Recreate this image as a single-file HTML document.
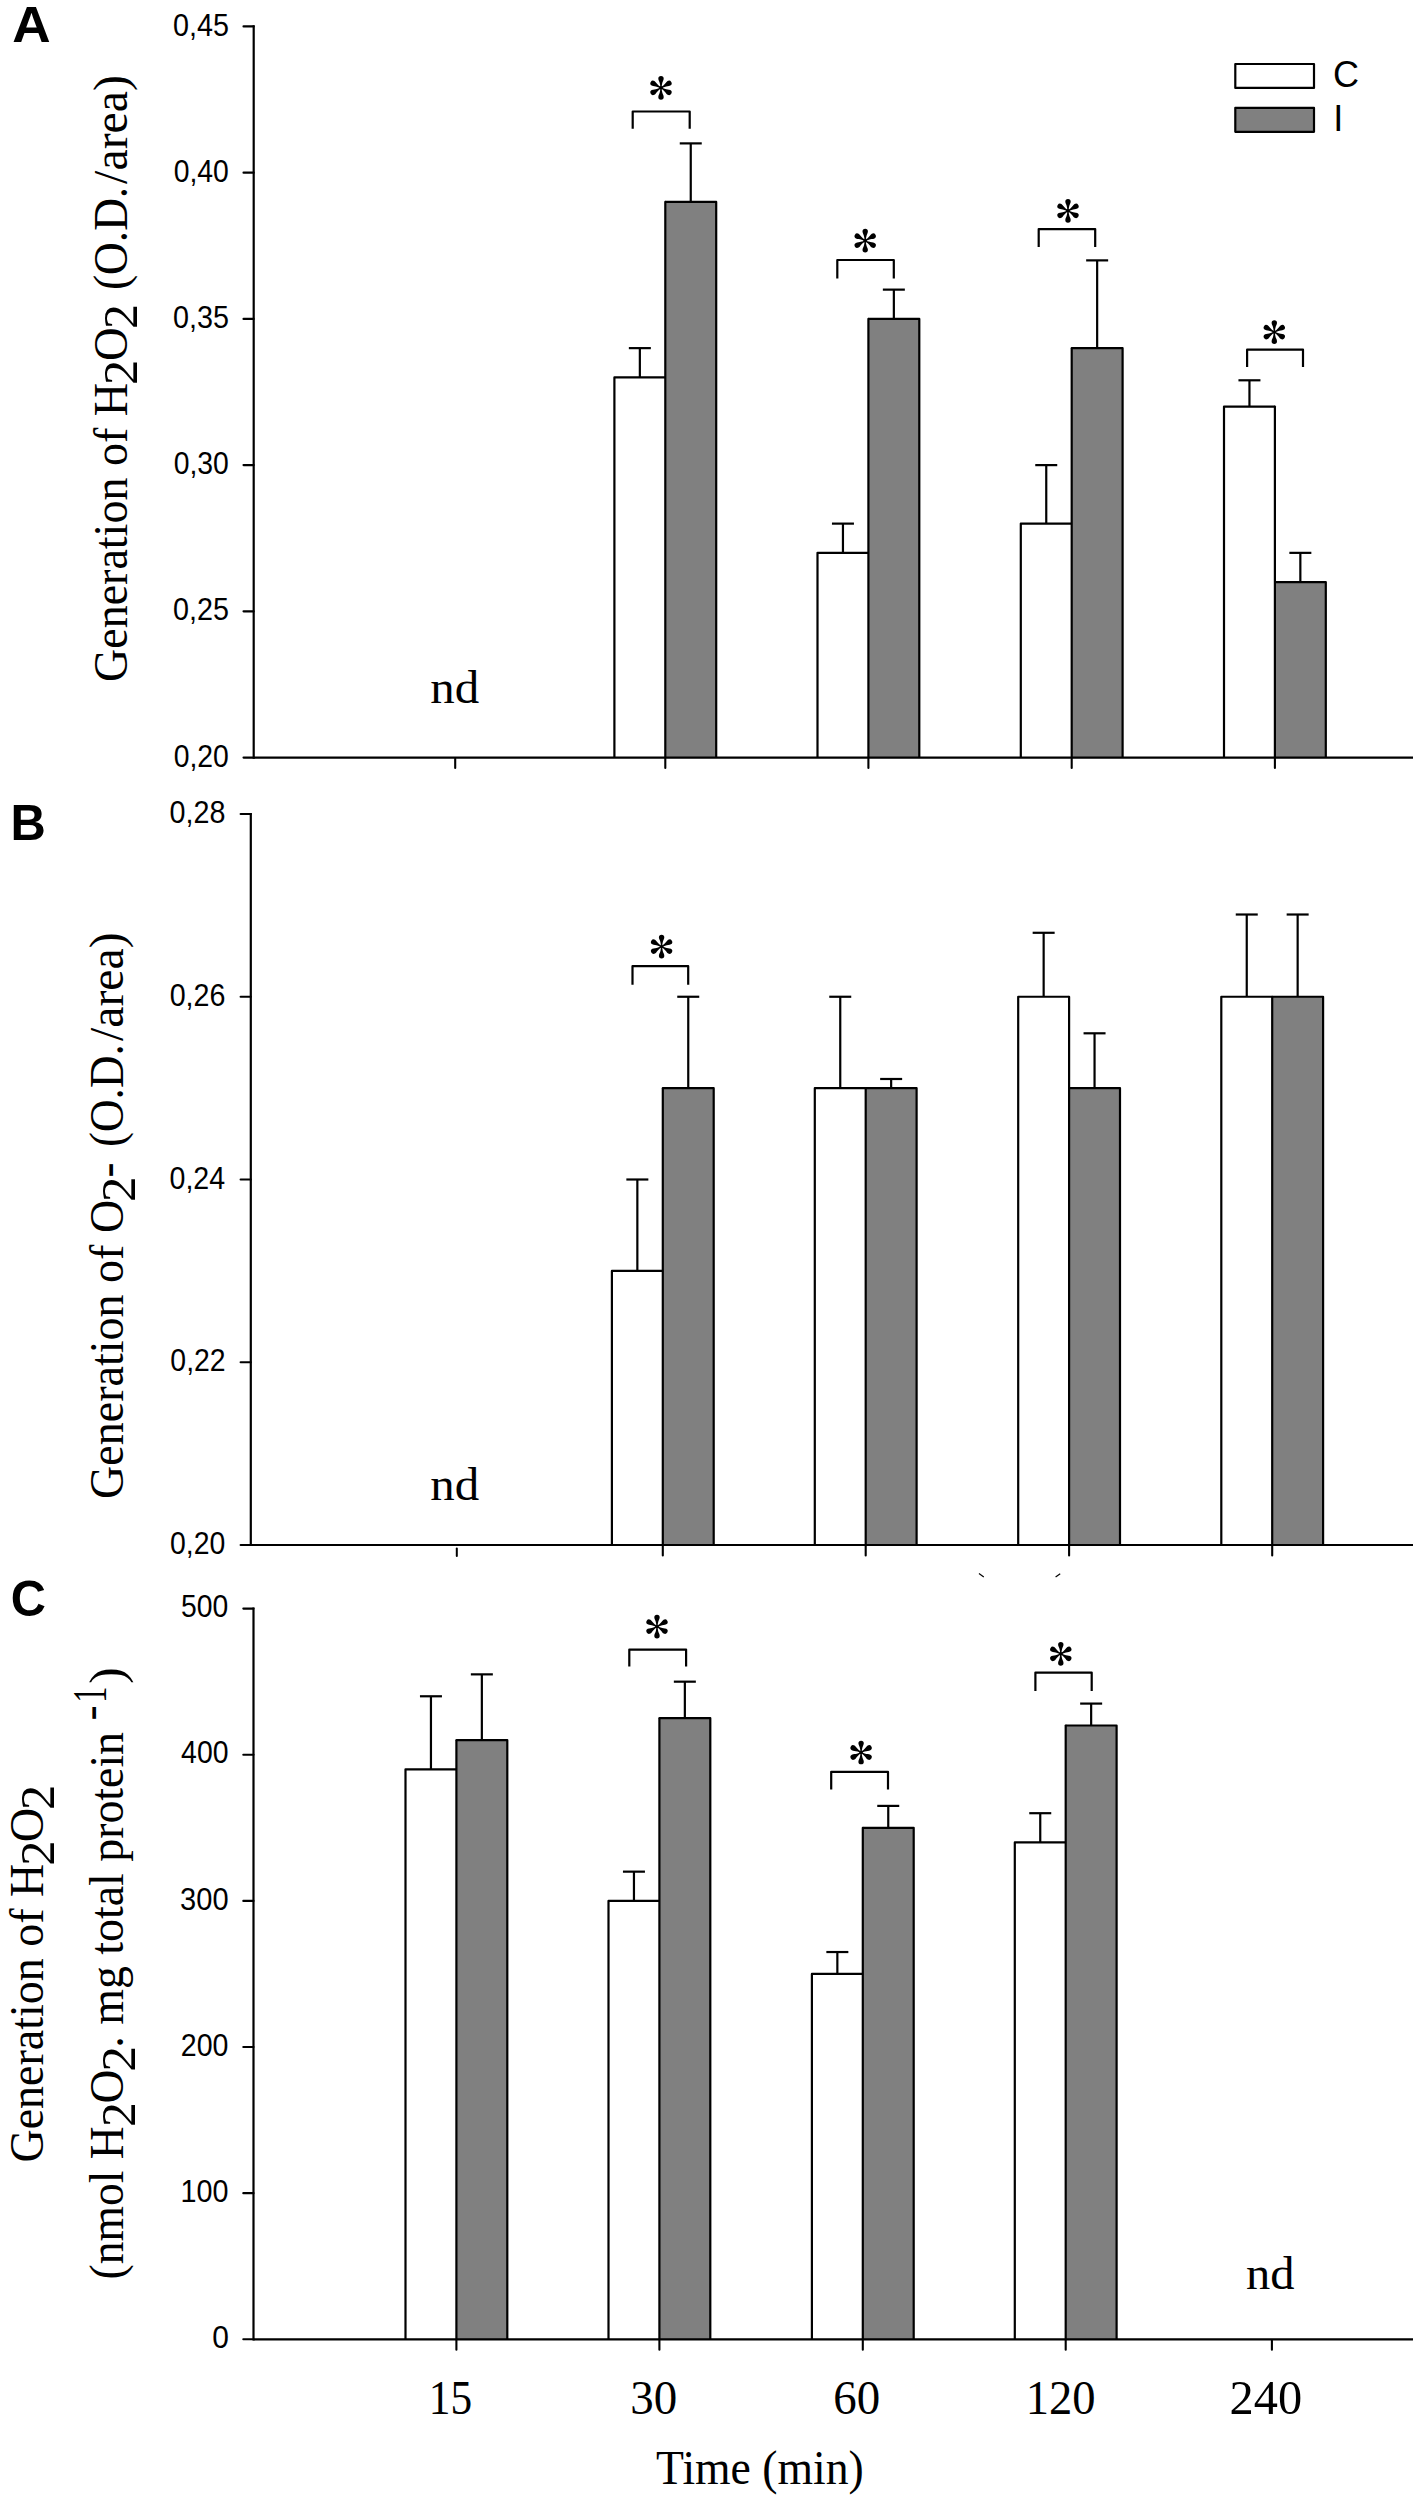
<!DOCTYPE html>
<html lang="en">
<head>
<meta charset="utf-8">
<title>Generation of H2O2 and O2- over time</title>
<style>
html,body{margin:0;padding:0;background:#fff;}
body{width:1418px;height:2500px;overflow:hidden;font-family:"Liberation Sans",sans-serif;}
svg{display:block;}
text{fill:#000;}
</style>
</head>
<body>
<svg width="1418" height="2500" viewBox="0 0 1418 2500">
<rect x="0" y="0" width="1418" height="2500" fill="#fff"/>
<rect x="614.4" y="377.38" width="50.9" height="380.22" fill="#fff"/>
<rect x="665.3" y="201.89" width="50.9" height="555.71" fill="#808080"/>
<rect x="817.5" y="552.86" width="50.9" height="204.74" fill="#fff"/>
<rect x="868.4" y="318.88" width="50.9" height="438.72" fill="#808080"/>
<rect x="1020.8" y="523.62" width="50.9" height="233.98" fill="#fff"/>
<rect x="1071.7" y="348.13" width="50.9" height="409.47" fill="#808080"/>
<rect x="1224" y="406.62" width="50.9" height="350.98" fill="#fff"/>
<rect x="1274.9" y="582.11" width="50.9" height="175.49" fill="#808080"/>
<polyline points="614.4,757.6 614.4,377.38 665.3,377.38" fill="none" stroke="#000" stroke-width="2.2" stroke-linejoin="round"/>
<polyline points="665.3,201.89 716.2,201.89 716.2,757.6" fill="none" stroke="#000" stroke-width="2.2" stroke-linejoin="round"/>
<line x1="665.3" y1="201.89" x2="665.3" y2="757.6" stroke="#000" stroke-width="2.2" stroke-linecap="round"/>
<line x1="639.85" y1="377.38" x2="639.85" y2="348.13" stroke="#000" stroke-width="2.2" stroke-linecap="butt"/>
<line x1="628.85" y1="348.13" x2="650.85" y2="348.13" stroke="#000" stroke-width="2.2" stroke-linecap="butt"/>
<line x1="690.75" y1="201.89" x2="690.75" y2="143.39" stroke="#000" stroke-width="2.2" stroke-linecap="butt"/>
<line x1="679.75" y1="143.39" x2="701.75" y2="143.39" stroke="#000" stroke-width="2.2" stroke-linecap="butt"/>
<polyline points="817.5,757.6 817.5,552.86 868.4,552.86" fill="none" stroke="#000" stroke-width="2.2" stroke-linejoin="round"/>
<polyline points="868.4,318.88 919.3,318.88 919.3,757.6" fill="none" stroke="#000" stroke-width="2.2" stroke-linejoin="round"/>
<line x1="868.4" y1="318.88" x2="868.4" y2="757.6" stroke="#000" stroke-width="2.2" stroke-linecap="round"/>
<line x1="842.95" y1="552.86" x2="842.95" y2="523.62" stroke="#000" stroke-width="2.2" stroke-linecap="butt"/>
<line x1="831.95" y1="523.62" x2="853.95" y2="523.62" stroke="#000" stroke-width="2.2" stroke-linecap="butt"/>
<line x1="893.85" y1="318.88" x2="893.85" y2="289.63" stroke="#000" stroke-width="2.2" stroke-linecap="butt"/>
<line x1="882.85" y1="289.63" x2="904.85" y2="289.63" stroke="#000" stroke-width="2.2" stroke-linecap="butt"/>
<polyline points="1020.8,757.6 1020.8,523.62 1071.7,523.62" fill="none" stroke="#000" stroke-width="2.2" stroke-linejoin="round"/>
<polyline points="1071.7,348.13 1122.6,348.13 1122.6,757.6" fill="none" stroke="#000" stroke-width="2.2" stroke-linejoin="round"/>
<line x1="1071.7" y1="348.13" x2="1071.7" y2="757.6" stroke="#000" stroke-width="2.2" stroke-linecap="round"/>
<line x1="1046.25" y1="523.62" x2="1046.25" y2="465.12" stroke="#000" stroke-width="2.2" stroke-linecap="butt"/>
<line x1="1035.25" y1="465.12" x2="1057.25" y2="465.12" stroke="#000" stroke-width="2.2" stroke-linecap="butt"/>
<line x1="1097.15" y1="348.13" x2="1097.15" y2="260.38" stroke="#000" stroke-width="2.2" stroke-linecap="butt"/>
<line x1="1086.15" y1="260.38" x2="1108.15" y2="260.38" stroke="#000" stroke-width="2.2" stroke-linecap="butt"/>
<polyline points="1224,757.6 1224,406.62 1274.9,406.62" fill="none" stroke="#000" stroke-width="2.2" stroke-linejoin="round"/>
<polyline points="1274.9,582.11 1325.8,582.11 1325.8,757.6" fill="none" stroke="#000" stroke-width="2.2" stroke-linejoin="round"/>
<line x1="1274.9" y1="406.62" x2="1274.9" y2="757.6" stroke="#000" stroke-width="2.2" stroke-linecap="round"/>
<line x1="1249.45" y1="406.62" x2="1249.45" y2="380.3" stroke="#000" stroke-width="2.2" stroke-linecap="butt"/>
<line x1="1238.45" y1="380.3" x2="1260.45" y2="380.3" stroke="#000" stroke-width="2.2" stroke-linecap="butt"/>
<line x1="1300.35" y1="582.11" x2="1300.35" y2="552.86" stroke="#000" stroke-width="2.2" stroke-linecap="butt"/>
<line x1="1289.35" y1="552.86" x2="1311.35" y2="552.86" stroke="#000" stroke-width="2.2" stroke-linecap="butt"/>
<line x1="253.7" y1="25.3" x2="253.7" y2="758.7" stroke="#000" stroke-width="2.2" stroke-linecap="butt"/>
<line x1="253.7" y1="757.6" x2="1413" y2="757.6" stroke="#000" stroke-width="2.2" stroke-linecap="butt"/>
<line x1="243.5" y1="26.4" x2="253.7" y2="26.4" stroke="#000" stroke-width="2.1" stroke-linecap="round"/>
<line x1="243.5" y1="172.64" x2="253.7" y2="172.64" stroke="#000" stroke-width="2.1" stroke-linecap="round"/>
<line x1="243.5" y1="318.88" x2="253.7" y2="318.88" stroke="#000" stroke-width="2.1" stroke-linecap="round"/>
<line x1="243.5" y1="465.12" x2="253.7" y2="465.12" stroke="#000" stroke-width="2.1" stroke-linecap="round"/>
<line x1="243.5" y1="611.36" x2="253.7" y2="611.36" stroke="#000" stroke-width="2.1" stroke-linecap="round"/>
<line x1="243.5" y1="757.6" x2="253.7" y2="757.6" stroke="#000" stroke-width="2.1" stroke-linecap="round"/>
<line x1="455.2" y1="758.7" x2="455.2" y2="768" stroke="#000" stroke-width="2.1" stroke-linecap="round"/>
<line x1="665.3" y1="758.7" x2="665.3" y2="768" stroke="#000" stroke-width="2.1" stroke-linecap="round"/>
<line x1="868.4" y1="758.7" x2="868.4" y2="768" stroke="#000" stroke-width="2.1" stroke-linecap="round"/>
<line x1="1071.7" y1="758.7" x2="1071.7" y2="768" stroke="#000" stroke-width="2.1" stroke-linecap="round"/>
<line x1="1274.9" y1="758.7" x2="1274.9" y2="768" stroke="#000" stroke-width="2.1" stroke-linecap="round"/>
<polyline points="632.7,128.8 632.7,111.5 689.7,111.5 689.7,128.8" fill="none" stroke="#000" stroke-width="2.2" stroke-linejoin="round"/>
<g transform="translate(661 87.8)" fill="#000"><circle r="1.7"/><path transform="rotate(0)" d="M-0.6,0 C-0.75,-1.8 -0.85,-2.8 -1,-3.55 C-1.25,-4.8 -1.55,-5.7 -1.9,-6.5 C-2.3,-7.4 -2.7,-8.2 -2.7,-9.15 A2.7,2.7 0 0 1 2.7,-9.15 C2.7,-8.2 2.3,-7.4 1.9,-6.5 C1.55,-5.7 1.25,-4.8 1,-3.55 C0.85,-2.8 0.75,-1.8 0.6,0 Z"/><path transform="rotate(60)" d="M-0.6,0 C-0.75,-1.8 -0.85,-2.8 -1,-3.55 C-1.25,-4.8 -1.55,-5.7 -1.9,-6.5 C-2.3,-7.4 -2.7,-8.2 -2.7,-9.15 A2.7,2.7 0 0 1 2.7,-9.15 C2.7,-8.2 2.3,-7.4 1.9,-6.5 C1.55,-5.7 1.25,-4.8 1,-3.55 C0.85,-2.8 0.75,-1.8 0.6,0 Z"/><path transform="rotate(120)" d="M-0.6,0 C-0.75,-1.8 -0.85,-2.8 -1,-3.55 C-1.25,-4.8 -1.55,-5.7 -1.9,-6.5 C-2.3,-7.4 -2.7,-8.2 -2.7,-9.15 A2.7,2.7 0 0 1 2.7,-9.15 C2.7,-8.2 2.3,-7.4 1.9,-6.5 C1.55,-5.7 1.25,-4.8 1,-3.55 C0.85,-2.8 0.75,-1.8 0.6,0 Z"/><path transform="rotate(180)" d="M-0.6,0 C-0.75,-1.8 -0.85,-2.8 -1,-3.55 C-1.25,-4.8 -1.55,-5.7 -1.9,-6.5 C-2.3,-7.4 -2.7,-8.2 -2.7,-9.15 A2.7,2.7 0 0 1 2.7,-9.15 C2.7,-8.2 2.3,-7.4 1.9,-6.5 C1.55,-5.7 1.25,-4.8 1,-3.55 C0.85,-2.8 0.75,-1.8 0.6,0 Z"/><path transform="rotate(240)" d="M-0.6,0 C-0.75,-1.8 -0.85,-2.8 -1,-3.55 C-1.25,-4.8 -1.55,-5.7 -1.9,-6.5 C-2.3,-7.4 -2.7,-8.2 -2.7,-9.15 A2.7,2.7 0 0 1 2.7,-9.15 C2.7,-8.2 2.3,-7.4 1.9,-6.5 C1.55,-5.7 1.25,-4.8 1,-3.55 C0.85,-2.8 0.75,-1.8 0.6,0 Z"/><path transform="rotate(300)" d="M-0.6,0 C-0.75,-1.8 -0.85,-2.8 -1,-3.55 C-1.25,-4.8 -1.55,-5.7 -1.9,-6.5 C-2.3,-7.4 -2.7,-8.2 -2.7,-9.15 A2.7,2.7 0 0 1 2.7,-9.15 C2.7,-8.2 2.3,-7.4 1.9,-6.5 C1.55,-5.7 1.25,-4.8 1,-3.55 C0.85,-2.8 0.75,-1.8 0.6,0 Z"/></g>
<polyline points="837.3,278.5 837.3,260 893.8,260 893.8,278.5" fill="none" stroke="#000" stroke-width="2.2" stroke-linejoin="round"/>
<g transform="translate(865.2 240.7)" fill="#000"><circle r="1.7"/><path transform="rotate(0)" d="M-0.6,0 C-0.75,-1.8 -0.85,-2.8 -1,-3.55 C-1.25,-4.8 -1.55,-5.7 -1.9,-6.5 C-2.3,-7.4 -2.7,-8.2 -2.7,-9.15 A2.7,2.7 0 0 1 2.7,-9.15 C2.7,-8.2 2.3,-7.4 1.9,-6.5 C1.55,-5.7 1.25,-4.8 1,-3.55 C0.85,-2.8 0.75,-1.8 0.6,0 Z"/><path transform="rotate(60)" d="M-0.6,0 C-0.75,-1.8 -0.85,-2.8 -1,-3.55 C-1.25,-4.8 -1.55,-5.7 -1.9,-6.5 C-2.3,-7.4 -2.7,-8.2 -2.7,-9.15 A2.7,2.7 0 0 1 2.7,-9.15 C2.7,-8.2 2.3,-7.4 1.9,-6.5 C1.55,-5.7 1.25,-4.8 1,-3.55 C0.85,-2.8 0.75,-1.8 0.6,0 Z"/><path transform="rotate(120)" d="M-0.6,0 C-0.75,-1.8 -0.85,-2.8 -1,-3.55 C-1.25,-4.8 -1.55,-5.7 -1.9,-6.5 C-2.3,-7.4 -2.7,-8.2 -2.7,-9.15 A2.7,2.7 0 0 1 2.7,-9.15 C2.7,-8.2 2.3,-7.4 1.9,-6.5 C1.55,-5.7 1.25,-4.8 1,-3.55 C0.85,-2.8 0.75,-1.8 0.6,0 Z"/><path transform="rotate(180)" d="M-0.6,0 C-0.75,-1.8 -0.85,-2.8 -1,-3.55 C-1.25,-4.8 -1.55,-5.7 -1.9,-6.5 C-2.3,-7.4 -2.7,-8.2 -2.7,-9.15 A2.7,2.7 0 0 1 2.7,-9.15 C2.7,-8.2 2.3,-7.4 1.9,-6.5 C1.55,-5.7 1.25,-4.8 1,-3.55 C0.85,-2.8 0.75,-1.8 0.6,0 Z"/><path transform="rotate(240)" d="M-0.6,0 C-0.75,-1.8 -0.85,-2.8 -1,-3.55 C-1.25,-4.8 -1.55,-5.7 -1.9,-6.5 C-2.3,-7.4 -2.7,-8.2 -2.7,-9.15 A2.7,2.7 0 0 1 2.7,-9.15 C2.7,-8.2 2.3,-7.4 1.9,-6.5 C1.55,-5.7 1.25,-4.8 1,-3.55 C0.85,-2.8 0.75,-1.8 0.6,0 Z"/><path transform="rotate(300)" d="M-0.6,0 C-0.75,-1.8 -0.85,-2.8 -1,-3.55 C-1.25,-4.8 -1.55,-5.7 -1.9,-6.5 C-2.3,-7.4 -2.7,-8.2 -2.7,-9.15 A2.7,2.7 0 0 1 2.7,-9.15 C2.7,-8.2 2.3,-7.4 1.9,-6.5 C1.55,-5.7 1.25,-4.8 1,-3.55 C0.85,-2.8 0.75,-1.8 0.6,0 Z"/></g>
<polyline points="1038.7,246.9 1038.7,229.1 1095.2,229.1 1095.2,246.9" fill="none" stroke="#000" stroke-width="2.2" stroke-linejoin="round"/>
<g transform="translate(1068 210.8)" fill="#000"><circle r="1.7"/><path transform="rotate(0)" d="M-0.6,0 C-0.75,-1.8 -0.85,-2.8 -1,-3.55 C-1.25,-4.8 -1.55,-5.7 -1.9,-6.5 C-2.3,-7.4 -2.7,-8.2 -2.7,-9.15 A2.7,2.7 0 0 1 2.7,-9.15 C2.7,-8.2 2.3,-7.4 1.9,-6.5 C1.55,-5.7 1.25,-4.8 1,-3.55 C0.85,-2.8 0.75,-1.8 0.6,0 Z"/><path transform="rotate(60)" d="M-0.6,0 C-0.75,-1.8 -0.85,-2.8 -1,-3.55 C-1.25,-4.8 -1.55,-5.7 -1.9,-6.5 C-2.3,-7.4 -2.7,-8.2 -2.7,-9.15 A2.7,2.7 0 0 1 2.7,-9.15 C2.7,-8.2 2.3,-7.4 1.9,-6.5 C1.55,-5.7 1.25,-4.8 1,-3.55 C0.85,-2.8 0.75,-1.8 0.6,0 Z"/><path transform="rotate(120)" d="M-0.6,0 C-0.75,-1.8 -0.85,-2.8 -1,-3.55 C-1.25,-4.8 -1.55,-5.7 -1.9,-6.5 C-2.3,-7.4 -2.7,-8.2 -2.7,-9.15 A2.7,2.7 0 0 1 2.7,-9.15 C2.7,-8.2 2.3,-7.4 1.9,-6.5 C1.55,-5.7 1.25,-4.8 1,-3.55 C0.85,-2.8 0.75,-1.8 0.6,0 Z"/><path transform="rotate(180)" d="M-0.6,0 C-0.75,-1.8 -0.85,-2.8 -1,-3.55 C-1.25,-4.8 -1.55,-5.7 -1.9,-6.5 C-2.3,-7.4 -2.7,-8.2 -2.7,-9.15 A2.7,2.7 0 0 1 2.7,-9.15 C2.7,-8.2 2.3,-7.4 1.9,-6.5 C1.55,-5.7 1.25,-4.8 1,-3.55 C0.85,-2.8 0.75,-1.8 0.6,0 Z"/><path transform="rotate(240)" d="M-0.6,0 C-0.75,-1.8 -0.85,-2.8 -1,-3.55 C-1.25,-4.8 -1.55,-5.7 -1.9,-6.5 C-2.3,-7.4 -2.7,-8.2 -2.7,-9.15 A2.7,2.7 0 0 1 2.7,-9.15 C2.7,-8.2 2.3,-7.4 1.9,-6.5 C1.55,-5.7 1.25,-4.8 1,-3.55 C0.85,-2.8 0.75,-1.8 0.6,0 Z"/><path transform="rotate(300)" d="M-0.6,0 C-0.75,-1.8 -0.85,-2.8 -1,-3.55 C-1.25,-4.8 -1.55,-5.7 -1.9,-6.5 C-2.3,-7.4 -2.7,-8.2 -2.7,-9.15 A2.7,2.7 0 0 1 2.7,-9.15 C2.7,-8.2 2.3,-7.4 1.9,-6.5 C1.55,-5.7 1.25,-4.8 1,-3.55 C0.85,-2.8 0.75,-1.8 0.6,0 Z"/></g>
<polyline points="1247.1,367.1 1247.1,349.7 1303,349.7 1303,367.1" fill="none" stroke="#000" stroke-width="2.2" stroke-linejoin="round"/>
<g transform="translate(1274.3 332.1)" fill="#000"><circle r="1.7"/><path transform="rotate(0)" d="M-0.6,0 C-0.75,-1.8 -0.85,-2.8 -1,-3.55 C-1.25,-4.8 -1.55,-5.7 -1.9,-6.5 C-2.3,-7.4 -2.7,-8.2 -2.7,-9.15 A2.7,2.7 0 0 1 2.7,-9.15 C2.7,-8.2 2.3,-7.4 1.9,-6.5 C1.55,-5.7 1.25,-4.8 1,-3.55 C0.85,-2.8 0.75,-1.8 0.6,0 Z"/><path transform="rotate(60)" d="M-0.6,0 C-0.75,-1.8 -0.85,-2.8 -1,-3.55 C-1.25,-4.8 -1.55,-5.7 -1.9,-6.5 C-2.3,-7.4 -2.7,-8.2 -2.7,-9.15 A2.7,2.7 0 0 1 2.7,-9.15 C2.7,-8.2 2.3,-7.4 1.9,-6.5 C1.55,-5.7 1.25,-4.8 1,-3.55 C0.85,-2.8 0.75,-1.8 0.6,0 Z"/><path transform="rotate(120)" d="M-0.6,0 C-0.75,-1.8 -0.85,-2.8 -1,-3.55 C-1.25,-4.8 -1.55,-5.7 -1.9,-6.5 C-2.3,-7.4 -2.7,-8.2 -2.7,-9.15 A2.7,2.7 0 0 1 2.7,-9.15 C2.7,-8.2 2.3,-7.4 1.9,-6.5 C1.55,-5.7 1.25,-4.8 1,-3.55 C0.85,-2.8 0.75,-1.8 0.6,0 Z"/><path transform="rotate(180)" d="M-0.6,0 C-0.75,-1.8 -0.85,-2.8 -1,-3.55 C-1.25,-4.8 -1.55,-5.7 -1.9,-6.5 C-2.3,-7.4 -2.7,-8.2 -2.7,-9.15 A2.7,2.7 0 0 1 2.7,-9.15 C2.7,-8.2 2.3,-7.4 1.9,-6.5 C1.55,-5.7 1.25,-4.8 1,-3.55 C0.85,-2.8 0.75,-1.8 0.6,0 Z"/><path transform="rotate(240)" d="M-0.6,0 C-0.75,-1.8 -0.85,-2.8 -1,-3.55 C-1.25,-4.8 -1.55,-5.7 -1.9,-6.5 C-2.3,-7.4 -2.7,-8.2 -2.7,-9.15 A2.7,2.7 0 0 1 2.7,-9.15 C2.7,-8.2 2.3,-7.4 1.9,-6.5 C1.55,-5.7 1.25,-4.8 1,-3.55 C0.85,-2.8 0.75,-1.8 0.6,0 Z"/><path transform="rotate(300)" d="M-0.6,0 C-0.75,-1.8 -0.85,-2.8 -1,-3.55 C-1.25,-4.8 -1.55,-5.7 -1.9,-6.5 C-2.3,-7.4 -2.7,-8.2 -2.7,-9.15 A2.7,2.7 0 0 1 2.7,-9.15 C2.7,-8.2 2.3,-7.4 1.9,-6.5 C1.55,-5.7 1.25,-4.8 1,-3.55 C0.85,-2.8 0.75,-1.8 0.6,0 Z"/></g>
<rect x="611.9" y="1270.88" width="50.9" height="274.12" fill="#fff"/>
<rect x="662.8" y="1088.13" width="50.9" height="456.87" fill="#808080"/>
<rect x="814.8" y="1088.13" width="50.9" height="456.87" fill="#fff"/>
<rect x="865.7" y="1088.13" width="50.9" height="456.87" fill="#808080"/>
<rect x="1018.2" y="996.75" width="50.9" height="548.25" fill="#fff"/>
<rect x="1069.1" y="1088.13" width="50.9" height="456.87" fill="#808080"/>
<rect x="1221.3" y="996.75" width="50.9" height="548.25" fill="#fff"/>
<rect x="1272.2" y="996.75" width="50.9" height="548.25" fill="#808080"/>
<polyline points="611.9,1545 611.9,1270.88 662.8,1270.88" fill="none" stroke="#000" stroke-width="2.2" stroke-linejoin="round"/>
<polyline points="662.8,1088.13 713.7,1088.13 713.7,1545" fill="none" stroke="#000" stroke-width="2.2" stroke-linejoin="round"/>
<line x1="662.8" y1="1088.13" x2="662.8" y2="1545" stroke="#000" stroke-width="2.2" stroke-linecap="round"/>
<line x1="637.35" y1="1270.88" x2="637.35" y2="1179.5" stroke="#000" stroke-width="2.2" stroke-linecap="butt"/>
<line x1="626.35" y1="1179.5" x2="648.35" y2="1179.5" stroke="#000" stroke-width="2.2" stroke-linecap="butt"/>
<line x1="688.25" y1="1088.13" x2="688.25" y2="996.75" stroke="#000" stroke-width="2.2" stroke-linecap="butt"/>
<line x1="677.25" y1="996.75" x2="699.25" y2="996.75" stroke="#000" stroke-width="2.2" stroke-linecap="butt"/>
<polyline points="814.8,1545 814.8,1088.13 865.7,1088.13" fill="none" stroke="#000" stroke-width="2.2" stroke-linejoin="round"/>
<polyline points="865.7,1088.13 916.6,1088.13 916.6,1545" fill="none" stroke="#000" stroke-width="2.2" stroke-linejoin="round"/>
<line x1="865.7" y1="1088.13" x2="865.7" y2="1545" stroke="#000" stroke-width="2.2" stroke-linecap="round"/>
<line x1="840.25" y1="1088.13" x2="840.25" y2="996.75" stroke="#000" stroke-width="2.2" stroke-linecap="butt"/>
<line x1="829.25" y1="996.75" x2="851.25" y2="996.75" stroke="#000" stroke-width="2.2" stroke-linecap="butt"/>
<line x1="891.15" y1="1088.13" x2="891.15" y2="1078.99" stroke="#000" stroke-width="2.2" stroke-linecap="butt"/>
<line x1="880.15" y1="1078.99" x2="902.15" y2="1078.99" stroke="#000" stroke-width="2.2" stroke-linecap="butt"/>
<polyline points="1018.2,1545 1018.2,996.75 1069.1,996.75" fill="none" stroke="#000" stroke-width="2.2" stroke-linejoin="round"/>
<polyline points="1069.1,1088.13 1120,1088.13 1120,1545" fill="none" stroke="#000" stroke-width="2.2" stroke-linejoin="round"/>
<line x1="1069.1" y1="996.75" x2="1069.1" y2="1545" stroke="#000" stroke-width="2.2" stroke-linecap="round"/>
<line x1="1043.65" y1="996.75" x2="1043.65" y2="932.79" stroke="#000" stroke-width="2.2" stroke-linecap="butt"/>
<line x1="1032.65" y1="932.79" x2="1054.65" y2="932.79" stroke="#000" stroke-width="2.2" stroke-linecap="butt"/>
<line x1="1094.55" y1="1088.13" x2="1094.55" y2="1033.3" stroke="#000" stroke-width="2.2" stroke-linecap="butt"/>
<line x1="1083.55" y1="1033.3" x2="1105.55" y2="1033.3" stroke="#000" stroke-width="2.2" stroke-linecap="butt"/>
<polyline points="1221.3,1545 1221.3,996.75 1272.2,996.75" fill="none" stroke="#000" stroke-width="2.2" stroke-linejoin="round"/>
<polyline points="1272.2,996.75 1323.1,996.75 1323.1,1545" fill="none" stroke="#000" stroke-width="2.2" stroke-linejoin="round"/>
<line x1="1272.2" y1="996.75" x2="1272.2" y2="1545" stroke="#000" stroke-width="2.2" stroke-linecap="round"/>
<line x1="1246.75" y1="996.75" x2="1246.75" y2="914.51" stroke="#000" stroke-width="2.2" stroke-linecap="butt"/>
<line x1="1235.75" y1="914.51" x2="1257.75" y2="914.51" stroke="#000" stroke-width="2.2" stroke-linecap="butt"/>
<line x1="1297.65" y1="996.75" x2="1297.65" y2="914.51" stroke="#000" stroke-width="2.2" stroke-linecap="butt"/>
<line x1="1286.65" y1="914.51" x2="1308.65" y2="914.51" stroke="#000" stroke-width="2.2" stroke-linecap="butt"/>
<line x1="250.8" y1="812.9" x2="250.8" y2="1546.1" stroke="#000" stroke-width="2.2" stroke-linecap="butt"/>
<line x1="250.8" y1="1545" x2="1413" y2="1545" stroke="#000" stroke-width="2.2" stroke-linecap="butt"/>
<line x1="240.6" y1="814" x2="250.8" y2="814" stroke="#000" stroke-width="2.1" stroke-linecap="round"/>
<line x1="240.6" y1="996.75" x2="250.8" y2="996.75" stroke="#000" stroke-width="2.1" stroke-linecap="round"/>
<line x1="240.6" y1="1179.5" x2="250.8" y2="1179.5" stroke="#000" stroke-width="2.1" stroke-linecap="round"/>
<line x1="240.6" y1="1362.25" x2="250.8" y2="1362.25" stroke="#000" stroke-width="2.1" stroke-linecap="round"/>
<line x1="240.6" y1="1545" x2="250.8" y2="1545" stroke="#000" stroke-width="2.1" stroke-linecap="round"/>
<line x1="456.8" y1="1548.6" x2="456.8" y2="1556" stroke="#000" stroke-width="2" stroke-linecap="round"/>
<line x1="662.8" y1="1546.1" x2="662.8" y2="1555.4" stroke="#000" stroke-width="2.1" stroke-linecap="round"/>
<line x1="865.7" y1="1546.1" x2="865.7" y2="1555.4" stroke="#000" stroke-width="2.1" stroke-linecap="round"/>
<line x1="1069.1" y1="1546.1" x2="1069.1" y2="1555.4" stroke="#000" stroke-width="2.1" stroke-linecap="round"/>
<line x1="1272.2" y1="1546.1" x2="1272.2" y2="1555.4" stroke="#000" stroke-width="2.1" stroke-linecap="round"/>
<polyline points="632.5,984.7 632.5,966.2 688.2,966.2 688.2,984.7" fill="none" stroke="#000" stroke-width="2.2" stroke-linejoin="round"/>
<g transform="translate(661.6 946.6)" fill="#000"><circle r="1.7"/><path transform="rotate(0)" d="M-0.6,0 C-0.75,-1.8 -0.85,-2.8 -1,-3.55 C-1.25,-4.8 -1.55,-5.7 -1.9,-6.5 C-2.3,-7.4 -2.7,-8.2 -2.7,-9.15 A2.7,2.7 0 0 1 2.7,-9.15 C2.7,-8.2 2.3,-7.4 1.9,-6.5 C1.55,-5.7 1.25,-4.8 1,-3.55 C0.85,-2.8 0.75,-1.8 0.6,0 Z"/><path transform="rotate(60)" d="M-0.6,0 C-0.75,-1.8 -0.85,-2.8 -1,-3.55 C-1.25,-4.8 -1.55,-5.7 -1.9,-6.5 C-2.3,-7.4 -2.7,-8.2 -2.7,-9.15 A2.7,2.7 0 0 1 2.7,-9.15 C2.7,-8.2 2.3,-7.4 1.9,-6.5 C1.55,-5.7 1.25,-4.8 1,-3.55 C0.85,-2.8 0.75,-1.8 0.6,0 Z"/><path transform="rotate(120)" d="M-0.6,0 C-0.75,-1.8 -0.85,-2.8 -1,-3.55 C-1.25,-4.8 -1.55,-5.7 -1.9,-6.5 C-2.3,-7.4 -2.7,-8.2 -2.7,-9.15 A2.7,2.7 0 0 1 2.7,-9.15 C2.7,-8.2 2.3,-7.4 1.9,-6.5 C1.55,-5.7 1.25,-4.8 1,-3.55 C0.85,-2.8 0.75,-1.8 0.6,0 Z"/><path transform="rotate(180)" d="M-0.6,0 C-0.75,-1.8 -0.85,-2.8 -1,-3.55 C-1.25,-4.8 -1.55,-5.7 -1.9,-6.5 C-2.3,-7.4 -2.7,-8.2 -2.7,-9.15 A2.7,2.7 0 0 1 2.7,-9.15 C2.7,-8.2 2.3,-7.4 1.9,-6.5 C1.55,-5.7 1.25,-4.8 1,-3.55 C0.85,-2.8 0.75,-1.8 0.6,0 Z"/><path transform="rotate(240)" d="M-0.6,0 C-0.75,-1.8 -0.85,-2.8 -1,-3.55 C-1.25,-4.8 -1.55,-5.7 -1.9,-6.5 C-2.3,-7.4 -2.7,-8.2 -2.7,-9.15 A2.7,2.7 0 0 1 2.7,-9.15 C2.7,-8.2 2.3,-7.4 1.9,-6.5 C1.55,-5.7 1.25,-4.8 1,-3.55 C0.85,-2.8 0.75,-1.8 0.6,0 Z"/><path transform="rotate(300)" d="M-0.6,0 C-0.75,-1.8 -0.85,-2.8 -1,-3.55 C-1.25,-4.8 -1.55,-5.7 -1.9,-6.5 C-2.3,-7.4 -2.7,-8.2 -2.7,-9.15 A2.7,2.7 0 0 1 2.7,-9.15 C2.7,-8.2 2.3,-7.4 1.9,-6.5 C1.55,-5.7 1.25,-4.8 1,-3.55 C0.85,-2.8 0.75,-1.8 0.6,0 Z"/></g>
<rect x="405.5" y="1769.35" width="50.9" height="569.95" fill="#fff"/>
<rect x="456.4" y="1740.13" width="50.9" height="599.17" fill="#808080"/>
<rect x="608.5" y="1900.88" width="50.9" height="438.42" fill="#fff"/>
<rect x="659.4" y="1718.2" width="50.9" height="621.1" fill="#808080"/>
<rect x="811.9" y="1973.95" width="50.9" height="365.35" fill="#fff"/>
<rect x="862.8" y="1827.81" width="50.9" height="511.49" fill="#808080"/>
<rect x="1014.8" y="1842.42" width="50.9" height="496.88" fill="#fff"/>
<rect x="1065.7" y="1725.51" width="50.9" height="613.79" fill="#808080"/>
<polyline points="405.5,2339.3 405.5,1769.35 456.4,1769.35" fill="none" stroke="#000" stroke-width="2.2" stroke-linejoin="round"/>
<polyline points="456.4,1740.13 507.3,1740.13 507.3,2339.3" fill="none" stroke="#000" stroke-width="2.2" stroke-linejoin="round"/>
<line x1="456.4" y1="1740.13" x2="456.4" y2="2339.3" stroke="#000" stroke-width="2.2" stroke-linecap="round"/>
<line x1="430.95" y1="1769.35" x2="430.95" y2="1696.28" stroke="#000" stroke-width="2.2" stroke-linecap="butt"/>
<line x1="419.95" y1="1696.28" x2="441.95" y2="1696.28" stroke="#000" stroke-width="2.2" stroke-linecap="butt"/>
<line x1="481.85" y1="1740.13" x2="481.85" y2="1674.36" stroke="#000" stroke-width="2.2" stroke-linecap="butt"/>
<line x1="470.85" y1="1674.36" x2="492.85" y2="1674.36" stroke="#000" stroke-width="2.2" stroke-linecap="butt"/>
<polyline points="608.5,2339.3 608.5,1900.88 659.4,1900.88" fill="none" stroke="#000" stroke-width="2.2" stroke-linejoin="round"/>
<polyline points="659.4,1718.2 710.3,1718.2 710.3,2339.3" fill="none" stroke="#000" stroke-width="2.2" stroke-linejoin="round"/>
<line x1="659.4" y1="1718.2" x2="659.4" y2="2339.3" stroke="#000" stroke-width="2.2" stroke-linecap="round"/>
<line x1="633.95" y1="1900.88" x2="633.95" y2="1871.65" stroke="#000" stroke-width="2.2" stroke-linecap="butt"/>
<line x1="622.95" y1="1871.65" x2="644.95" y2="1871.65" stroke="#000" stroke-width="2.2" stroke-linecap="butt"/>
<line x1="684.85" y1="1718.2" x2="684.85" y2="1681.67" stroke="#000" stroke-width="2.2" stroke-linecap="butt"/>
<line x1="673.85" y1="1681.67" x2="695.85" y2="1681.67" stroke="#000" stroke-width="2.2" stroke-linecap="butt"/>
<polyline points="811.9,2339.3 811.9,1973.95 862.8,1973.95" fill="none" stroke="#000" stroke-width="2.2" stroke-linejoin="round"/>
<polyline points="862.8,1827.81 913.7,1827.81 913.7,2339.3" fill="none" stroke="#000" stroke-width="2.2" stroke-linejoin="round"/>
<line x1="862.8" y1="1827.81" x2="862.8" y2="2339.3" stroke="#000" stroke-width="2.2" stroke-linecap="round"/>
<line x1="837.35" y1="1973.95" x2="837.35" y2="1952.03" stroke="#000" stroke-width="2.2" stroke-linecap="butt"/>
<line x1="826.35" y1="1952.03" x2="848.35" y2="1952.03" stroke="#000" stroke-width="2.2" stroke-linecap="butt"/>
<line x1="888.25" y1="1827.81" x2="888.25" y2="1805.89" stroke="#000" stroke-width="2.2" stroke-linecap="butt"/>
<line x1="877.25" y1="1805.89" x2="899.25" y2="1805.89" stroke="#000" stroke-width="2.2" stroke-linecap="butt"/>
<polyline points="1014.8,2339.3 1014.8,1842.42 1065.7,1842.42" fill="none" stroke="#000" stroke-width="2.2" stroke-linejoin="round"/>
<polyline points="1065.7,1725.51 1116.6,1725.51 1116.6,2339.3" fill="none" stroke="#000" stroke-width="2.2" stroke-linejoin="round"/>
<line x1="1065.7" y1="1725.51" x2="1065.7" y2="2339.3" stroke="#000" stroke-width="2.2" stroke-linecap="round"/>
<line x1="1040.25" y1="1842.42" x2="1040.25" y2="1813.2" stroke="#000" stroke-width="2.2" stroke-linecap="butt"/>
<line x1="1029.25" y1="1813.2" x2="1051.25" y2="1813.2" stroke="#000" stroke-width="2.2" stroke-linecap="butt"/>
<line x1="1091.15" y1="1725.51" x2="1091.15" y2="1703.59" stroke="#000" stroke-width="2.2" stroke-linecap="butt"/>
<line x1="1080.15" y1="1703.59" x2="1102.15" y2="1703.59" stroke="#000" stroke-width="2.2" stroke-linecap="butt"/>
<line x1="253.5" y1="1607.5" x2="253.5" y2="2340.4" stroke="#000" stroke-width="2.2" stroke-linecap="butt"/>
<line x1="253.5" y1="2339.3" x2="1413" y2="2339.3" stroke="#000" stroke-width="2.2" stroke-linecap="butt"/>
<line x1="243.3" y1="1608.6" x2="253.5" y2="1608.6" stroke="#000" stroke-width="2.1" stroke-linecap="round"/>
<line x1="243.3" y1="1754.74" x2="253.5" y2="1754.74" stroke="#000" stroke-width="2.1" stroke-linecap="round"/>
<line x1="243.3" y1="1900.88" x2="253.5" y2="1900.88" stroke="#000" stroke-width="2.1" stroke-linecap="round"/>
<line x1="243.3" y1="2047.02" x2="253.5" y2="2047.02" stroke="#000" stroke-width="2.1" stroke-linecap="round"/>
<line x1="243.3" y1="2193.16" x2="253.5" y2="2193.16" stroke="#000" stroke-width="2.1" stroke-linecap="round"/>
<line x1="243.3" y1="2339.3" x2="253.5" y2="2339.3" stroke="#000" stroke-width="2.1" stroke-linecap="round"/>
<line x1="456.4" y1="2340.4" x2="456.4" y2="2349.7" stroke="#000" stroke-width="2.1" stroke-linecap="round"/>
<line x1="659.4" y1="2340.4" x2="659.4" y2="2349.7" stroke="#000" stroke-width="2.1" stroke-linecap="round"/>
<line x1="862.8" y1="2340.4" x2="862.8" y2="2349.7" stroke="#000" stroke-width="2.1" stroke-linecap="round"/>
<line x1="1065.7" y1="2340.4" x2="1065.7" y2="2349.7" stroke="#000" stroke-width="2.1" stroke-linecap="round"/>
<line x1="1271.9" y1="2340.4" x2="1271.9" y2="2349.7" stroke="#000" stroke-width="2.1" stroke-linecap="round"/>
<polyline points="629.3,1666.6 629.3,1649.6 686.1,1649.6 686.1,1666.6" fill="none" stroke="#000" stroke-width="2.2" stroke-linejoin="round"/>
<g transform="translate(657 1626.6)" fill="#000"><circle r="1.7"/><path transform="rotate(0)" d="M-0.6,0 C-0.75,-1.8 -0.85,-2.8 -1,-3.55 C-1.25,-4.8 -1.55,-5.7 -1.9,-6.5 C-2.3,-7.4 -2.7,-8.2 -2.7,-9.15 A2.7,2.7 0 0 1 2.7,-9.15 C2.7,-8.2 2.3,-7.4 1.9,-6.5 C1.55,-5.7 1.25,-4.8 1,-3.55 C0.85,-2.8 0.75,-1.8 0.6,0 Z"/><path transform="rotate(60)" d="M-0.6,0 C-0.75,-1.8 -0.85,-2.8 -1,-3.55 C-1.25,-4.8 -1.55,-5.7 -1.9,-6.5 C-2.3,-7.4 -2.7,-8.2 -2.7,-9.15 A2.7,2.7 0 0 1 2.7,-9.15 C2.7,-8.2 2.3,-7.4 1.9,-6.5 C1.55,-5.7 1.25,-4.8 1,-3.55 C0.85,-2.8 0.75,-1.8 0.6,0 Z"/><path transform="rotate(120)" d="M-0.6,0 C-0.75,-1.8 -0.85,-2.8 -1,-3.55 C-1.25,-4.8 -1.55,-5.7 -1.9,-6.5 C-2.3,-7.4 -2.7,-8.2 -2.7,-9.15 A2.7,2.7 0 0 1 2.7,-9.15 C2.7,-8.2 2.3,-7.4 1.9,-6.5 C1.55,-5.7 1.25,-4.8 1,-3.55 C0.85,-2.8 0.75,-1.8 0.6,0 Z"/><path transform="rotate(180)" d="M-0.6,0 C-0.75,-1.8 -0.85,-2.8 -1,-3.55 C-1.25,-4.8 -1.55,-5.7 -1.9,-6.5 C-2.3,-7.4 -2.7,-8.2 -2.7,-9.15 A2.7,2.7 0 0 1 2.7,-9.15 C2.7,-8.2 2.3,-7.4 1.9,-6.5 C1.55,-5.7 1.25,-4.8 1,-3.55 C0.85,-2.8 0.75,-1.8 0.6,0 Z"/><path transform="rotate(240)" d="M-0.6,0 C-0.75,-1.8 -0.85,-2.8 -1,-3.55 C-1.25,-4.8 -1.55,-5.7 -1.9,-6.5 C-2.3,-7.4 -2.7,-8.2 -2.7,-9.15 A2.7,2.7 0 0 1 2.7,-9.15 C2.7,-8.2 2.3,-7.4 1.9,-6.5 C1.55,-5.7 1.25,-4.8 1,-3.55 C0.85,-2.8 0.75,-1.8 0.6,0 Z"/><path transform="rotate(300)" d="M-0.6,0 C-0.75,-1.8 -0.85,-2.8 -1,-3.55 C-1.25,-4.8 -1.55,-5.7 -1.9,-6.5 C-2.3,-7.4 -2.7,-8.2 -2.7,-9.15 A2.7,2.7 0 0 1 2.7,-9.15 C2.7,-8.2 2.3,-7.4 1.9,-6.5 C1.55,-5.7 1.25,-4.8 1,-3.55 C0.85,-2.8 0.75,-1.8 0.6,0 Z"/></g>
<polyline points="831.2,1789.6 831.2,1771.8 888,1771.8 888,1789.6" fill="none" stroke="#000" stroke-width="2.2" stroke-linejoin="round"/>
<g transform="translate(861.1 1752.5)" fill="#000"><circle r="1.7"/><path transform="rotate(0)" d="M-0.6,0 C-0.75,-1.8 -0.85,-2.8 -1,-3.55 C-1.25,-4.8 -1.55,-5.7 -1.9,-6.5 C-2.3,-7.4 -2.7,-8.2 -2.7,-9.15 A2.7,2.7 0 0 1 2.7,-9.15 C2.7,-8.2 2.3,-7.4 1.9,-6.5 C1.55,-5.7 1.25,-4.8 1,-3.55 C0.85,-2.8 0.75,-1.8 0.6,0 Z"/><path transform="rotate(60)" d="M-0.6,0 C-0.75,-1.8 -0.85,-2.8 -1,-3.55 C-1.25,-4.8 -1.55,-5.7 -1.9,-6.5 C-2.3,-7.4 -2.7,-8.2 -2.7,-9.15 A2.7,2.7 0 0 1 2.7,-9.15 C2.7,-8.2 2.3,-7.4 1.9,-6.5 C1.55,-5.7 1.25,-4.8 1,-3.55 C0.85,-2.8 0.75,-1.8 0.6,0 Z"/><path transform="rotate(120)" d="M-0.6,0 C-0.75,-1.8 -0.85,-2.8 -1,-3.55 C-1.25,-4.8 -1.55,-5.7 -1.9,-6.5 C-2.3,-7.4 -2.7,-8.2 -2.7,-9.15 A2.7,2.7 0 0 1 2.7,-9.15 C2.7,-8.2 2.3,-7.4 1.9,-6.5 C1.55,-5.7 1.25,-4.8 1,-3.55 C0.85,-2.8 0.75,-1.8 0.6,0 Z"/><path transform="rotate(180)" d="M-0.6,0 C-0.75,-1.8 -0.85,-2.8 -1,-3.55 C-1.25,-4.8 -1.55,-5.7 -1.9,-6.5 C-2.3,-7.4 -2.7,-8.2 -2.7,-9.15 A2.7,2.7 0 0 1 2.7,-9.15 C2.7,-8.2 2.3,-7.4 1.9,-6.5 C1.55,-5.7 1.25,-4.8 1,-3.55 C0.85,-2.8 0.75,-1.8 0.6,0 Z"/><path transform="rotate(240)" d="M-0.6,0 C-0.75,-1.8 -0.85,-2.8 -1,-3.55 C-1.25,-4.8 -1.55,-5.7 -1.9,-6.5 C-2.3,-7.4 -2.7,-8.2 -2.7,-9.15 A2.7,2.7 0 0 1 2.7,-9.15 C2.7,-8.2 2.3,-7.4 1.9,-6.5 C1.55,-5.7 1.25,-4.8 1,-3.55 C0.85,-2.8 0.75,-1.8 0.6,0 Z"/><path transform="rotate(300)" d="M-0.6,0 C-0.75,-1.8 -0.85,-2.8 -1,-3.55 C-1.25,-4.8 -1.55,-5.7 -1.9,-6.5 C-2.3,-7.4 -2.7,-8.2 -2.7,-9.15 A2.7,2.7 0 0 1 2.7,-9.15 C2.7,-8.2 2.3,-7.4 1.9,-6.5 C1.55,-5.7 1.25,-4.8 1,-3.55 C0.85,-2.8 0.75,-1.8 0.6,0 Z"/></g>
<polyline points="1035.4,1691.1 1035.4,1672.6 1091.7,1672.6 1091.7,1691.1" fill="none" stroke="#000" stroke-width="2.2" stroke-linejoin="round"/>
<g transform="translate(1060.8 1653.8)" fill="#000"><circle r="1.7"/><path transform="rotate(0)" d="M-0.6,0 C-0.75,-1.8 -0.85,-2.8 -1,-3.55 C-1.25,-4.8 -1.55,-5.7 -1.9,-6.5 C-2.3,-7.4 -2.7,-8.2 -2.7,-9.15 A2.7,2.7 0 0 1 2.7,-9.15 C2.7,-8.2 2.3,-7.4 1.9,-6.5 C1.55,-5.7 1.25,-4.8 1,-3.55 C0.85,-2.8 0.75,-1.8 0.6,0 Z"/><path transform="rotate(60)" d="M-0.6,0 C-0.75,-1.8 -0.85,-2.8 -1,-3.55 C-1.25,-4.8 -1.55,-5.7 -1.9,-6.5 C-2.3,-7.4 -2.7,-8.2 -2.7,-9.15 A2.7,2.7 0 0 1 2.7,-9.15 C2.7,-8.2 2.3,-7.4 1.9,-6.5 C1.55,-5.7 1.25,-4.8 1,-3.55 C0.85,-2.8 0.75,-1.8 0.6,0 Z"/><path transform="rotate(120)" d="M-0.6,0 C-0.75,-1.8 -0.85,-2.8 -1,-3.55 C-1.25,-4.8 -1.55,-5.7 -1.9,-6.5 C-2.3,-7.4 -2.7,-8.2 -2.7,-9.15 A2.7,2.7 0 0 1 2.7,-9.15 C2.7,-8.2 2.3,-7.4 1.9,-6.5 C1.55,-5.7 1.25,-4.8 1,-3.55 C0.85,-2.8 0.75,-1.8 0.6,0 Z"/><path transform="rotate(180)" d="M-0.6,0 C-0.75,-1.8 -0.85,-2.8 -1,-3.55 C-1.25,-4.8 -1.55,-5.7 -1.9,-6.5 C-2.3,-7.4 -2.7,-8.2 -2.7,-9.15 A2.7,2.7 0 0 1 2.7,-9.15 C2.7,-8.2 2.3,-7.4 1.9,-6.5 C1.55,-5.7 1.25,-4.8 1,-3.55 C0.85,-2.8 0.75,-1.8 0.6,0 Z"/><path transform="rotate(240)" d="M-0.6,0 C-0.75,-1.8 -0.85,-2.8 -1,-3.55 C-1.25,-4.8 -1.55,-5.7 -1.9,-6.5 C-2.3,-7.4 -2.7,-8.2 -2.7,-9.15 A2.7,2.7 0 0 1 2.7,-9.15 C2.7,-8.2 2.3,-7.4 1.9,-6.5 C1.55,-5.7 1.25,-4.8 1,-3.55 C0.85,-2.8 0.75,-1.8 0.6,0 Z"/><path transform="rotate(300)" d="M-0.6,0 C-0.75,-1.8 -0.85,-2.8 -1,-3.55 C-1.25,-4.8 -1.55,-5.7 -1.9,-6.5 C-2.3,-7.4 -2.7,-8.2 -2.7,-9.15 A2.7,2.7 0 0 1 2.7,-9.15 C2.7,-8.2 2.3,-7.4 1.9,-6.5 C1.55,-5.7 1.25,-4.8 1,-3.55 C0.85,-2.8 0.75,-1.8 0.6,0 Z"/></g>
<line x1="979" y1="1573.6" x2="983.8" y2="1577" stroke="#000" stroke-width="1.2" stroke-linecap="butt"/>
<line x1="1055.6" y1="1577" x2="1060.2" y2="1573.8" stroke="#000" stroke-width="1.2" stroke-linecap="butt"/>
<rect x="1235.3" y="64" width="78.7" height="23.9" fill="#fff" stroke="#000" stroke-width="2.2" stroke-linejoin="round"/>
<rect x="1235.3" y="107.8" width="78.7" height="24" fill="#808080" stroke="#000" stroke-width="2.2" stroke-linejoin="round"/>
<text id="pA" x="12.39" y="42.1" font-family="'Liberation Sans', sans-serif" font-size="49.7" font-weight="bold" text-anchor="start" textLength="38.38" lengthAdjust="spacingAndGlyphs">A</text>
<text id="pB" x="10.45" y="839.7" font-family="'Liberation Sans', sans-serif" font-size="49.7" font-weight="bold" text-anchor="start" textLength="35.29" lengthAdjust="spacingAndGlyphs">B</text>
<text id="pC" x="10.86" y="1616.2" font-family="'Liberation Sans', sans-serif" font-size="49.7" font-weight="bold" text-anchor="start" textLength="35.2" lengthAdjust="spacingAndGlyphs">C</text>
<text id="lgC" x="1332.88" y="87.4" font-family="'Liberation Sans', sans-serif" font-size="36.9" font-weight="normal" text-anchor="start" textLength="26.03" lengthAdjust="spacingAndGlyphs">C</text>
<text id="lgI" x="1333.35" y="131.3" font-family="'Liberation Sans', sans-serif" font-size="36.9" font-weight="normal" text-anchor="start" textLength="10.06" lengthAdjust="spacingAndGlyphs">I</text>
<text id="ndA" x="430.27" y="703" font-family="'Liberation Serif', serif" font-size="46.8" font-weight="normal" text-anchor="start" textLength="48.89" lengthAdjust="spacingAndGlyphs">nd</text>
<text id="ndB" x="430.27" y="1499.9" font-family="'Liberation Serif', serif" font-size="46.8" font-weight="normal" text-anchor="start" textLength="48.89" lengthAdjust="spacingAndGlyphs">nd</text>
<text id="ndC" x="1245.95" y="2288.6" font-family="'Liberation Serif', serif" font-size="46.8" font-weight="normal" text-anchor="start" textLength="48.51" lengthAdjust="spacingAndGlyphs">nd</text>
<text id="x15" x="428.72" y="2413.8" font-family="'Liberation Serif', serif" font-size="47.8" font-weight="normal" text-anchor="start" textLength="43.34" lengthAdjust="spacingAndGlyphs">15</text>
<text id="x30" x="630.18" y="2413.8" font-family="'Liberation Serif', serif" font-size="47.8" font-weight="normal" text-anchor="start" textLength="46.98" lengthAdjust="spacingAndGlyphs">30</text>
<text id="x60" x="833.26" y="2413.8" font-family="'Liberation Serif', serif" font-size="47.8" font-weight="normal" text-anchor="start" textLength="46.89" lengthAdjust="spacingAndGlyphs">60</text>
<text id="x120" x="1025.78" y="2413.8" font-family="'Liberation Serif', serif" font-size="47.8" font-weight="normal" text-anchor="start" textLength="69.79" lengthAdjust="spacingAndGlyphs">120</text>
<text id="x240" x="1229.54" y="2413.8" font-family="'Liberation Serif', serif" font-size="47.8" font-weight="normal" text-anchor="start" textLength="72.55" lengthAdjust="spacingAndGlyphs">240</text>
<text id="xt" x="656.09" y="2483.8" font-family="'Liberation Serif', serif" font-size="47.8" font-weight="normal" text-anchor="start" textLength="207.75" lengthAdjust="spacingAndGlyphs">Time (min)</text>
<text id="ya0" x="173.04" y="35.5" font-family="'Liberation Sans', sans-serif" font-size="30.6" font-weight="normal" text-anchor="start" textLength="55.96" lengthAdjust="spacingAndGlyphs">0,45</text>
<text id="ya1" x="173.68" y="181.74" font-family="'Liberation Sans', sans-serif" font-size="30.6" font-weight="normal" text-anchor="start" textLength="55.2" lengthAdjust="spacingAndGlyphs">0,40</text>
<text id="ya2" x="173.04" y="327.98" font-family="'Liberation Sans', sans-serif" font-size="30.6" font-weight="normal" text-anchor="start" textLength="55.96" lengthAdjust="spacingAndGlyphs">0,35</text>
<text id="ya3" x="173.68" y="474.22" font-family="'Liberation Sans', sans-serif" font-size="30.6" font-weight="normal" text-anchor="start" textLength="55.2" lengthAdjust="spacingAndGlyphs">0,30</text>
<text id="ya4" x="173.04" y="620.46" font-family="'Liberation Sans', sans-serif" font-size="30.6" font-weight="normal" text-anchor="start" textLength="55.96" lengthAdjust="spacingAndGlyphs">0,25</text>
<text id="ya5" x="173.68" y="766.7" font-family="'Liberation Sans', sans-serif" font-size="30.6" font-weight="normal" text-anchor="start" textLength="55.2" lengthAdjust="spacingAndGlyphs">0,20</text>
<text id="yb0" x="169.52" y="823.1" font-family="'Liberation Sans', sans-serif" font-size="30.6" font-weight="normal" text-anchor="start" textLength="55.91" lengthAdjust="spacingAndGlyphs">0,28</text>
<text id="yb1" x="169.63" y="1005.85" font-family="'Liberation Sans', sans-serif" font-size="30.6" font-weight="normal" text-anchor="start" textLength="55.84" lengthAdjust="spacingAndGlyphs">0,26</text>
<text id="yb2" x="169.52" y="1188.6" font-family="'Liberation Sans', sans-serif" font-size="30.6" font-weight="normal" text-anchor="start" textLength="55.57" lengthAdjust="spacingAndGlyphs">0,24</text>
<text id="yb3" x="170.37" y="1371.35" font-family="'Liberation Sans', sans-serif" font-size="30.6" font-weight="normal" text-anchor="start" textLength="55.29" lengthAdjust="spacingAndGlyphs">0,22</text>
<text id="yb4" x="170.06" y="1554.1" font-family="'Liberation Sans', sans-serif" font-size="30.6" font-weight="normal" text-anchor="start" textLength="55.31" lengthAdjust="spacingAndGlyphs">0,20</text>
<text id="yc0" x="181.12" y="1617.2" font-family="'Liberation Sans', sans-serif" font-size="30.6" font-weight="normal" text-anchor="start" textLength="47.24" lengthAdjust="spacingAndGlyphs">500</text>
<text id="yc1" x="181.11" y="1763.4" font-family="'Liberation Sans', sans-serif" font-size="30.6" font-weight="normal" text-anchor="start" textLength="47.41" lengthAdjust="spacingAndGlyphs">400</text>
<text id="yc2" x="180.1" y="1909.6" font-family="'Liberation Sans', sans-serif" font-size="30.6" font-weight="normal" text-anchor="start" textLength="48.44" lengthAdjust="spacingAndGlyphs">300</text>
<text id="yc3" x="180.82" y="2055.8" font-family="'Liberation Sans', sans-serif" font-size="30.6" font-weight="normal" text-anchor="start" textLength="47.66" lengthAdjust="spacingAndGlyphs">200</text>
<text id="yc4" x="180.53" y="2202" font-family="'Liberation Sans', sans-serif" font-size="30.6" font-weight="normal" text-anchor="start" textLength="47.97" lengthAdjust="spacingAndGlyphs">100</text>
<text id="yc5" x="212.29" y="2348.2" font-family="'Liberation Sans', sans-serif" font-size="30.6" font-weight="normal" text-anchor="start" textLength="16.65" lengthAdjust="spacingAndGlyphs">0</text>
<text id="tag" transform="translate(126.5 682) rotate(-90)" font-family="'Liberation Serif', serif" font-size="48" font-weight="normal" text-anchor="start" textLength="298.98" lengthAdjust="spacingAndGlyphs">Generation of H</text>
<text id="tas1" transform="translate(137.4 385.06) rotate(-90)" font-family="'Liberation Serif', serif" font-size="48" font-weight="normal" text-anchor="start" textLength="25.17" lengthAdjust="spacingAndGlyphs">2</text>
<text id="tao" transform="translate(126.5 361) rotate(-90)" font-family="'Liberation Serif', serif" font-size="48" font-weight="normal" text-anchor="start" textLength="33.57" lengthAdjust="spacingAndGlyphs">O</text>
<text id="tas2" transform="translate(137.4 328.91) rotate(-90)" font-family="'Liberation Serif', serif" font-size="48" font-weight="normal" text-anchor="start" textLength="24.86" lengthAdjust="spacingAndGlyphs">2</text>
<text id="tap1" transform="translate(126.5 290) rotate(-90)" font-family="'Liberation Serif', serif" font-size="48" font-weight="normal" text-anchor="start" textLength="103.2" lengthAdjust="spacingAndGlyphs">(O.D.</text>
<text id="tap2" transform="translate(126.5 183.93) rotate(-90)" font-family="'Liberation Serif', serif" font-size="48" font-weight="normal" text-anchor="start" textLength="109" lengthAdjust="spacingAndGlyphs">/area)</text>
<text id="tbg" transform="translate(123.4 1499) rotate(-90)" font-family="'Liberation Serif', serif" font-size="48" font-weight="normal" text-anchor="start" textLength="299.22" lengthAdjust="spacingAndGlyphs">Generation of O</text>
<text id="tbs" transform="translate(134.5 1202.06) rotate(-90)" font-family="'Liberation Serif', serif" font-size="48" font-weight="normal" text-anchor="start" textLength="25.45" lengthAdjust="spacingAndGlyphs">2</text>
<text id="tbh" transform="translate(123.4 1177.48) rotate(-90)" font-family="'Liberation Serif', serif" font-size="48" font-weight="normal" text-anchor="start" textLength="14.97" lengthAdjust="spacingAndGlyphs">-</text>
<text id="tbp1" transform="translate(123.4 1147.11) rotate(-90)" font-family="'Liberation Serif', serif" font-size="48" font-weight="normal" text-anchor="start" textLength="102.96" lengthAdjust="spacingAndGlyphs">(O.D.</text>
<text id="tbp2" transform="translate(123.4 1041) rotate(-90)" font-family="'Liberation Serif', serif" font-size="48" font-weight="normal" text-anchor="start" textLength="108.57" lengthAdjust="spacingAndGlyphs">/area)</text>
<text id="tcg" transform="translate(42.6 2162.55) rotate(-90)" font-family="'Liberation Serif', serif" font-size="48" font-weight="normal" text-anchor="start" textLength="298.68" lengthAdjust="spacingAndGlyphs">Generation of H</text>
<text id="tcs1" transform="translate(53.5 1865.86) rotate(-90)" font-family="'Liberation Serif', serif" font-size="48" font-weight="normal" text-anchor="start" textLength="25.21" lengthAdjust="spacingAndGlyphs">2</text>
<text id="tco" transform="translate(42.6 1842.3) rotate(-90)" font-family="'Liberation Serif', serif" font-size="48" font-weight="normal" text-anchor="start" textLength="34.51" lengthAdjust="spacingAndGlyphs">O</text>
<text id="tcs2" transform="translate(53.5 1809.97) rotate(-90)" font-family="'Liberation Serif', serif" font-size="48" font-weight="normal" text-anchor="start" textLength="25.2" lengthAdjust="spacingAndGlyphs">2</text>
<text id="tdg" transform="translate(122.9 2279.55) rotate(-90)" font-family="'Liberation Serif', serif" font-size="48" font-weight="normal" text-anchor="start" textLength="153.31" lengthAdjust="spacingAndGlyphs">(nmol H</text>
<text id="tds1" transform="translate(134.6 2127) rotate(-90)" font-family="'Liberation Serif', serif" font-size="48" font-weight="normal" text-anchor="start" textLength="24.82" lengthAdjust="spacingAndGlyphs">2</text>
<text id="tdo" transform="translate(122.9 2103.55) rotate(-90)" font-family="'Liberation Serif', serif" font-size="48" font-weight="normal" text-anchor="start" textLength="33.98" lengthAdjust="spacingAndGlyphs">O</text>
<text id="tds2" transform="translate(134.6 2071.86) rotate(-90)" font-family="'Liberation Serif', serif" font-size="48" font-weight="normal" text-anchor="start" textLength="25.77" lengthAdjust="spacingAndGlyphs">2</text>
<text id="tdm" transform="translate(122.9 2047.64) rotate(-90)" font-family="'Liberation Serif', serif" font-size="48" font-weight="normal" text-anchor="start" textLength="315.68" lengthAdjust="spacingAndGlyphs">. mg total protein</text>
<text id="tdh" transform="translate(105.9 1720.62) rotate(-90)" font-family="'Liberation Serif', serif" font-size="48" font-weight="normal" text-anchor="start" textLength="15.12" lengthAdjust="spacingAndGlyphs">-</text>
<text id="td1" transform="translate(105.9 1702.79) rotate(-90)" font-family="'Liberation Serif', serif" font-size="48" font-weight="normal" text-anchor="start" textLength="16.05" lengthAdjust="spacingAndGlyphs">1</text>
<text id="tdp" transform="translate(122.9 1683.7) rotate(-90)" font-family="'Liberation Serif', serif" font-size="48" font-weight="normal" text-anchor="start" textLength="16.34" lengthAdjust="spacingAndGlyphs">)</text>
</svg>
</body>
</html>
